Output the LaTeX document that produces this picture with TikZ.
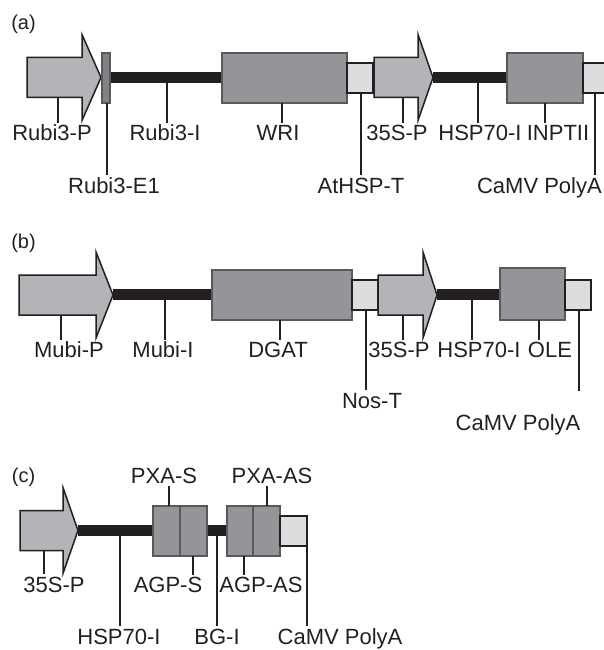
\documentclass[tikz,border=0pt]{standalone}
\usepackage{fontspec}
\setmainfont{Liberation Sans}
\definecolor{ink}{HTML}{231F20}
\definecolor{arrowfill}{HTML}{B2B4B7}
\definecolor{boxfill}{HTML}{939598}
\definecolor{boxline}{HTML}{58595B}
\definecolor{smallfill}{HTML}{DCDDDE}
\definecolor{efill}{HTML}{808285}
\newcommand\PromArrow[5]{% name, x0, xb, tip, yc
  \path[promoter] (#2,{#5-20}) -- (#3,{#5-20}) -- (#3,{#5-43}) -- (#4,#5) coordinate (#1tip)
    -- (#3,{#5+43}) -- (#3,{#5+20}) -- (#2,{#5+20}) -- cycle;}
\begin{document}
\begin{tikzpicture}[x=1pt,y=-1pt,
  lbl/.style={font=\fontsize{22}{26}\selectfont, text=ink, anchor=base, inner sep=0pt},
  panel/.style={font=\fontsize{20}{24}\selectfont, text=ink, anchor=base, inner sep=0pt},
  tick/.style={draw=ink, line width=1.3pt},
  intron/.style={fill=ink},
  bigbox/.style={draw=boxline, fill=boxfill, line width=1.5pt},
  smallbox/.style={draw=ink, fill=smallfill, line width=1.5pt},
  exonbox/.style={draw=boxline, fill=efill, line width=1.2pt},
  promoter/.style={draw=ink, fill=arrowfill, line width=1.5pt, line join=miter},
]
\useasboundingbox (0,0) rectangle (604,650);
\clip (0,0) rectangle (604,650);

% ---------------- (a) ----------------
\node[panel] (pa) at (23.5,30) {(a)};
\fill[intron] (101,72) rectangle (222,83);
\fill[intron] (433,72) rectangle (507,83);
\PromArrow{a1}{27}{82}{101}{77.5}
\draw[exonbox] (102,53) rectangle (110,103);
\draw[bigbox] (222,53) rectangle (347,103);
\draw[smallbox] (347,63) rectangle (373,93);
\PromArrow{a2}{374}{418}{433}{77.5}
\draw[bigbox] (507,53) rectangle (583,103);
\draw[smallbox] (583,63) rectangle (620,93);

\node[lbl] (la1) at (52,140) {Rubi3-P};
\node[lbl] (la2) at (114,193) {Rubi3-E1};
\node[lbl] (la3) at (165,140) {Rubi3-I};
\node[lbl] (la4) at (278,140) {WRI};
\node[lbl] (la5) at (361,193) {AtHSP-T};
\node[lbl] (la6) at (397,140) {35S-P};
\node[lbl] (la7) at (480,140) {HSP70-I};
\node[lbl] (la8) at (558,140) {INPTII};
\node[lbl, anchor=base east] (la9) at (602,193) {CaMV PolyA};
\draw[tick] (58,98) -- (58,123);
\draw[tick] (107,103) -- (107,175);
\draw[tick] (167,83) -- (167,123);
\draw[tick] (282,103) -- (282,123);
\draw[tick] (361,93) -- (361,175);
\draw[tick] (403,98) -- (403,123);
\draw[tick] (478,83) -- (478,123);
\draw[tick] (545,103) -- (545,123);
\draw[tick] (595,93) -- (595,175);

% ---------------- (b) ----------------
\node[panel] (pb) at (23.5,248) {(b)};
\fill[intron] (113,289) rectangle (212,300);
\fill[intron] (437,289) rectangle (500,300);
\PromArrow{b1}{19}{96}{113}{295}
\draw[bigbox] (212,270) rectangle (352,320);
\draw[smallbox] (352,280) rectangle (378,310);
\PromArrow{b2}{378}{423}{437}{295}
\draw[bigbox] (500,268) rectangle (565,320);
\draw[smallbox] (565,280) rectangle (591,310);

\node[lbl] (lb1) at (69,357) {Mubi-P};
\node[lbl] (lb2) at (163,357) {Mubi-I};
\node[lbl] (lb3) at (278,357) {DGAT};
\node[lbl] (lb4) at (372,408) {Nos-T};
\node[lbl] (lb5) at (399,357) {35S-P};
\node[lbl] (lb6) at (479,357) {HSP70-I};
\node[lbl] (lb7) at (550,357) {OLE};
\node[lbl] (lb8) at (518,430) {CaMV PolyA};
\draw[tick] (61,315) -- (61,340);
\draw[tick] (165,300) -- (165,340);
\draw[tick] (280,320) -- (280,340);
\draw[tick] (366,310) -- (366,390);
\draw[tick] (403,315) -- (403,340);
\draw[tick] (472,300) -- (472,340);
\draw[tick] (539,320) -- (539,340);
\draw[tick] (579,310) -- (579,391);

% ---------------- (c) ----------------
\node[panel] (pc) at (23.5,482) {(c)};
\fill[intron] (78,525) rectangle (153,536);
\fill[intron] (207,525) rectangle (227,536);
\PromArrow{c1}{20}{63}{78}{530.5}
\draw[bigbox] (153,506) rectangle (180,556);
\draw[bigbox] (180,506) rectangle (207,556);
\draw[bigbox] (227,506) rectangle (253,556);
\draw[bigbox] (253,506) rectangle (280,556);
\draw[smallbox] (280,516) rectangle (307,546);

\node[lbl] (lc1) at (164,483) {PXA-S};
\node[lbl] (lc2) at (272,483) {PXA-AS};
\node[lbl] (lc3) at (54,592) {35S-P};
\node[lbl] (lc4) at (168,592) {AGP-S};
\node[lbl] (lc5) at (261,592) {AGP-AS};
\node[lbl] (lc6) at (119,644) {HSP70-I};
\node[lbl] (lc7) at (217,644) {BG-I};
\node[lbl] (lc8) at (340,644) {CaMV PolyA};
\draw[tick] (169,506) -- (169,486);
\draw[tick] (267,506) -- (267,486);
\draw[tick] (44,550) -- (44,574);
\draw[tick] (193,556) -- (193,575);
\draw[tick] (244,556) -- (244,575);
\draw[tick] (120,536) -- (120,626);
\draw[tick] (217,536) -- (217,626);
\draw[tick] (307,546) -- (307,626);
\end{tikzpicture}
\end{document}
